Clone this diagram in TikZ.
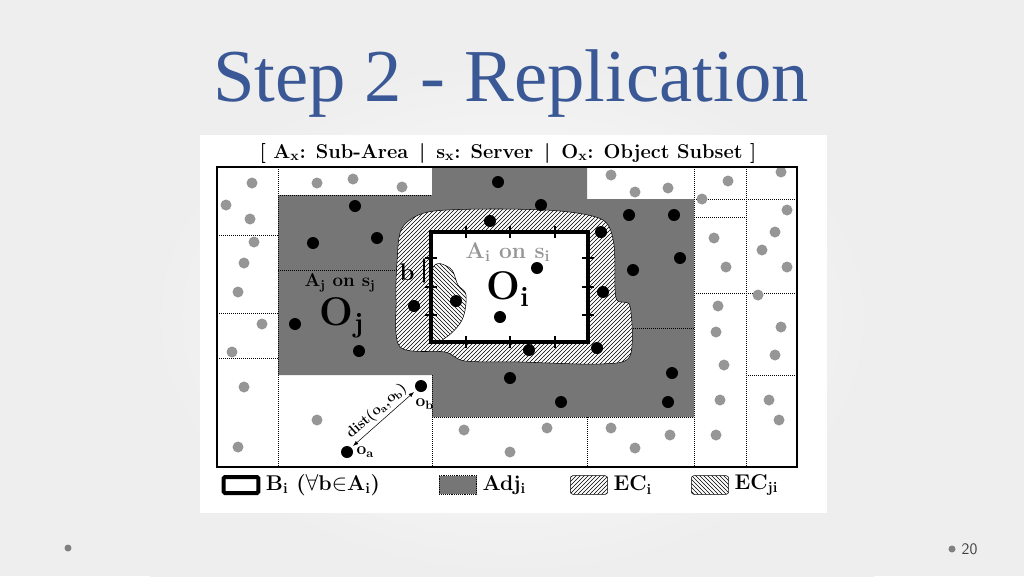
\documentclass[tikz,border=0pt]{standalone}
\usepackage{amsmath}
\usepackage{amssymb}
\usepackage{fontspec}
\newfontfamily\titlefont{Liberation Serif}
\usetikzlibrary{patterns,arrows.meta,calc,positioning}
\definecolor{slidebg}{RGB}{238,238,238}
\definecolor{titleblue}{RGB}{58,88,150}
\definecolor{adjgray}{RGB}{118,118,118}
\definecolor{objgray}{RGB}{150,150,150}
\tikzset{
    frame/.style = {draw, line width=2.2pt},
    grid/.style = {draw, densely dotted, line width=0.5pt},
    objdot/.style = {fill=black},
    fardot/.style = {fill=objgray},
    lbl/.style = {font=\bfseries\fontsize{13}{15}\selectfont, inner sep=1pt},
    biglbl/.style = {font=\bfseries\fontsize{30}{32}\selectfont, inner sep=0pt},
    legbox/.style = {draw, rounded corners=2pt, minimum width=28pt, minimum height=14pt}
}
\begin{document}
\begin{tikzpicture}[x=0.75pt,y=-0.75pt]
    \useasboundingbox (0,0) rectangle (1024,576);
    \fill[slidebg] (0,0) rectangle (1024,576);
    \shade[inner color=white, outer color=slidebg] (150,60) rectangle (874,576);
    \node[text=titleblue, font=\titlefont\fontsize{56}{66}\selectfont] (title) at (511,84) {Step 2 - Replication};
    % figure
    \fill[white] (200,135) rectangle (827,513);
    \node[lbl, font=\bfseries\fontsize{15}{17}\selectfont] (head) at (508,153)
        {[ A\textsubscript{x}: Sub-Area \,|\, s\textsubscript{x}: Server \,|\, O\textsubscript{x}: Object Subset ]};
    \fill[adjgray] (278,195) -- (432,195) -- (432,167) -- (587,167) -- (587,199) -- (694,199)
        -- (694,417) -- (432,417) -- (432,375) -- (278,375) -- cycle;
    % grid lines
    \foreach \x in {278,694,746} \draw[grid] (\x,167) -- (\x,467);
    \draw[grid] (432,375) -- (432,467);
    \draw[grid] (587,417) -- (587,467);
    \draw[grid] (432,417) -- (694,417);
    \draw[grid] (278,195) -- (432,195);
    \draw[grid] (278,270) -- (432,270);
    \foreach \y in {235,313,358} \draw[grid] (217,\y) -- (278,\y);
    \foreach \y in {199,293} \draw[grid] (694,\y) -- (797,\y);
    \draw[grid] (694,217) -- (746,217);
    \draw[grid] (746,375) -- (797,375);
    \draw[grid] (587,328) -- (694,328);
    % EC blob
    \path[draw, fill=white, postaction={pattern=north east lines}]
        plot[smooth cycle, tension=0.5] coordinates {(402,228) (428,212) (490,209) (560,211) (603,220)
        (614,245) (616,298) (630,306) (630,356) (600,364) (520,362) (465,361) (445,352) (400,347) (396,300) (397,262)};
    \fill[white] (431,232) rectangle (588,342);
    \path[draw, fill=white, postaction={pattern=north west lines}]
        plot[smooth cycle, tension=0.6] coordinates {(432,270) (450,268) (458,285) (466,295) (462,320) (445,338) (432,338)};
    \draw[line width=3pt] (431,232) rectangle (588,342);
    \foreach \x in {466,510,555} {
        \draw[line width=1pt] (\x,226) -- (\x,238);
        \draw[line width=1pt] (\x,336) -- (\x,348);
    }
    \foreach \y in {258,287,315} {
        \draw[line width=1pt] (425,\y) -- (437,\y);
        \draw[line width=1pt] (582,\y) -- (594,\y);
    }
    % objects
    \foreach \p in {(498,182),(355,206),(541,205),(629,215),(674,215),(490,221),(313,243),(377,238),
        (601,232),(680,258),(537,268),(633,270),(456,301),(414,306),(603,292),(500,317),(295,324),
        (359,351),(529,350),(597,348),(510,378),(672,373),(561,402),(668,402)}
        \fill[objdot] \p circle (6);
    \foreach \p in {(252,183),(317,183),(353,179),(402,187),(226,205),(250,219),(254,242),(244,263),
        (238,292),(262,324),(232,352),(244,387),(317,420),(238,447),(611,175),(635,192),(668,188),
        (728,181),(781,172),(702,199),(787,210),(775,232),(714,238),(762,250),(726,267),(787,267),
        (758,295),(718,306),(781,327),(716,332),(775,355),(724,365),(720,400),(769,400),(779,420),
        (716,435),(670,435),(635,448),(611,428),(547,428),(510,452),(464,430)}
        \fill[fardot] \p circle (5.5);
    \fill[objdot] (421,386) circle (6) coordinate (ob);
    \fill[objdot] (347,452) circle (6) coordinate (oa);
    \draw[frame] (217,167) rectangle (797,467);
    % labels
    \node[lbl, text=objgray, font=\bfseries\fontsize{17}{19}\selectfont] (ailbl) at (508,252) {A\textsubscript{i} on s\textsubscript{i}};
    \node[biglbl] (oilbl) at (508,289) {O\textsubscript{i}};
    \node[lbl, font=\bfseries\fontsize{14}{16}\selectfont] (ajlbl) at (340,283) {A\textsubscript{j} on s\textsubscript{j}};
    \node[biglbl] (ojlbl) at (342,318) {O\textsubscript{j}};
    \node[lbl, font=\bfseries\fontsize{18}{20}\selectfont] (blbl) at (407,272) {b};
    \coordinate (btop) at (424,257);
    \coordinate (bbot) at (424,284);
    \draw[{Latex[length=3pt]}-{Latex[length=3pt]}, line width=1.2pt] (btop) -- (bbot);
    \node[lbl, anchor=west] (oblbl) at (414,404) {o\textsubscript{b}};
    \node[lbl, right=6pt of oa] (oalbl) {o\textsubscript{a}};
    \draw[{Latex[length=4pt]}-{Latex[length=4pt]}] ($(oa)+(6,-6)$) -- node[lbl, font=\bfseries\fontsize{11}{13}\selectfont, sloped, above=1pt] {dist(o\textsubscript{a},o\textsubscript{b})} ($(ob)+(-7,6)$);
    % legend
    \node[legbox, line width=3pt, rounded corners=1pt, minimum width=26pt, minimum height=12pt] (legbi) at (241,485) {};
    \node[lbl, font=\bfseries\fontsize{16}{18}\selectfont, right=3pt of legbi] (legbit) {B\textsubscript{i} ($\forall$b$\in$A\textsubscript{i})};
    \node[legbox, fill=adjgray, densely dotted, rounded corners=0pt] (legadj) at (458,485) {};
    \node[lbl, font=\bfseries\fontsize{16}{18}\selectfont, right=3pt of legadj] (legadjt) {Adj\textsubscript{i}};
    \node[legbox, pattern=north east lines] (legec) at (589,485) {};
    \node[lbl, font=\bfseries\fontsize{16}{18}\selectfont, right=3pt of legec] (legect) {EC\textsubscript{i}};
    \node[legbox, pattern=north west lines] (legecj) at (710,485) {};
    \node[lbl, font=\bfseries\fontsize{16}{18}\selectfont, right=3pt of legecj] (legecjt) {EC\textsubscript{ji}};
    % footer
    \fill[gray] (68,548) circle (3.5);
    \fill[gray] (952,549) circle (3.5);
    \node[text=darkgray, font=\fontsize{12}{14}\selectfont\sffamily, anchor=west] (pagenum) at (957,549) {20};
\end{tikzpicture}
\end{document}
